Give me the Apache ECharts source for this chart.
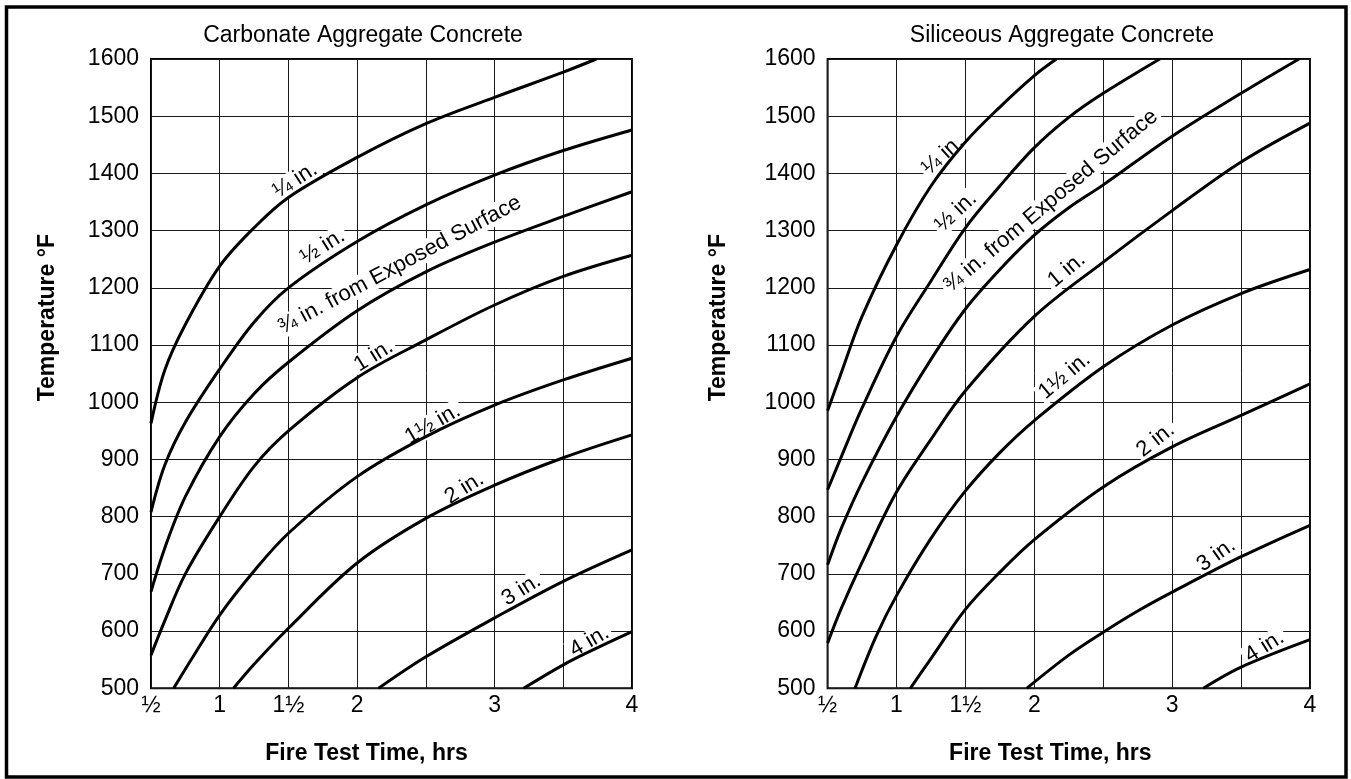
<!DOCTYPE html>
<html>
<head>
<meta charset="utf-8">
<script src="https://cdn.jsdelivr.net/npm/echarts@6/dist/echarts.min.js"></script>
<style>
html,body{margin:0;padding:0;background:#fff;}
#c{width:1351px;height:779px;}
</style>
</head>
<body>
<div id="c"></div>
<script>
// ---------- DATA (hours, °F) ----------
const panelTitles = ['Carbonate Aggregate Concrete', 'Siliceous Aggregate Concrete'];
const xAxisTitle = 'Fire Test Time, hrs';
const yAxisTitle = 'Temperature °F';
const timeTickValues = [0.5, 1, 1.5, 2, 2.5, 3, 3.5, 4];
const timeTickLabels = ['½', '1', '1½', '2', '', '3', '', '4'];
const depthNames = ['¼ in.', '½ in.', '¾ in. from Exposed Surface', '1 in.', '1½ in.', '2 in.', '3 in.', '4 in.'];

// Carbonate aggregate concrete
const carb_025 = [[0.5,963],[0.6,1056],[0.75,1136],[1.0,1238],[1.25,1305],[1.5,1358],[2.0,1428],[2.5,1487],[3.0,1533],[3.5,1577],[3.74,1600]];
const carb_050 = [[0.5,808],[0.6,890],[0.75,965],[1.0,1058],[1.25,1140],[1.5,1200],[2.0,1281],[2.5,1345],[3.0,1397],[3.5,1440],[4.0,1476]];
const carb_075 = [[0.5,669],[0.6,745],[0.75,835],[1.0,940],[1.25,1015],[1.5,1070],[2.0,1160],[2.5,1228],[3.0,1280],[3.5,1325],[4.0,1368]];
const carb_100 = [[0.5,558],[0.6,618],[0.75,700],[1.0,800],[1.25,888],[1.5,950],[2.0,1043],[2.5,1109],[3.0,1170],[3.5,1220],[4.0,1257]];
const carb_150 = [[0.665,500],[0.8,553],[1.0,628],[1.25,705],[1.5,771],[2.0,870],[2.5,940],[3.0,995],[3.5,1039],[4.0,1077]];
const carb_200 = [[1.10,500],[1.25,542],[1.5,605],[2.0,719],[2.5,797],[3.0,855],[3.5,903],[4.0,943]];
const carb_300 = [[2.156,500],[2.5,555],[3.0,623],[3.5,687],[4.0,742]];
const carb_400 = [[3.212,500],[3.5,541],[3.75,571],[4.0,599]];

// Siliceous aggregate concrete
const sil_025 = [[0.5,985],[0.6,1052],[0.75,1150],[1.0,1275],[1.25,1378],[1.5,1455],[1.75,1516],[2.0,1571],[2.16,1600]];
const sil_050 = [[0.5,847],[0.6,905],[0.75,990],[1.0,1115],[1.25,1212],[1.5,1305],[1.75,1378],[2.0,1445],[2.25,1498],[2.5,1540],[2.91,1600]];
const sil_075 = [[0.5,716],[0.6,780],[0.75,860],[1.0,975],[1.25,1075],[1.5,1163],[1.75,1232],[2.0,1292],[2.25,1340],[2.5,1380],[3.0,1465],[3.5,1540],[3.92,1600]];
const sil_100 = [[0.5,579],[0.6,640],[0.75,720],[1.0,843],[1.25,935],[1.5,1020],[2.0,1150],[2.5,1245],[3.0,1335],[3.5,1420],[4.0,1488]];
const sil_150 = [[0.699,500],[0.85,590],[1.0,662],[1.25,762],[1.5,845],[1.75,912],[2.0,968],[2.5,1062],[3.0,1135],[3.5,1190],[4.0,1232]];
const sil_200 = [[1.10,500],[1.25,552],[1.5,638],[1.75,703],[2.0,760],[2.5,852],[3.0,922],[3.5,977],[4.0,1032]];
const sil_300 = [[1.945,500],[2.25,558],[2.5,598],[2.75,635],[3.0,668],[3.5,730],[4.0,785]];
const sil_400 = [[3.226,500],[3.5,537],[4.0,585]];

const carbCurves = [carb_025, carb_050, carb_075, carb_100, carb_150, carb_200, carb_300, carb_400];
const silCurves = [sil_025, sil_050, sil_075, sil_100, sil_150, sil_200, sil_300, sil_400];

// ---------- LAYOUT / STYLE ----------
const FONT = '"Liberation Sans", Arial, Helvetica, sans-serif';
// curve label anchors in data coordinates [hours, °F] and rotation (deg)
const carbLabelPlace = [[1.55,1388,33],[1.75,1272,32],[2.31,1240,28],[2.12,1081,32],[2.55,962,30],[2.78,850,32],[3.195,672,32],[3.69,582,30]];
const silLabelPlace = [[1.337,1432,42],[1.432,1333,43],[2.12,1352,40],[2.235,1231,40],[2.22,1046,40],[2.88,934,38],[3.32,733,35],[3.67,573,32]];

const gridDefs = [
  {left:151, top:59, width:481, height:629.3},
  {left:827.6, top:59, width:482.4, height:629.3}
];
const titleCenters = [363, 1062];
const xNamePad = [[0,50,0,0],[0,37,0,0]];
const yNameGap = [92, 97];

function tickFmt(v) {
  for (let i = 0; i < timeTickValues.length; i++) {
    if (Math.abs(timeTickValues[i] - v) < 1e-6) return timeTickLabels[i];
  }
  return '';
}

const chart = echarts.init(document.getElementById('c'), null, {renderer: 'canvas'});

const grids = gridDefs.map(g => Object.assign({show: true, borderColor: '#000', borderWidth: 2, backgroundColor: 'transparent'}, g));
const xAxes = [0,1].map(i => ({
  type: 'value', gridIndex: i, min: 0.5, max: 4, interval: 0.5,
  axisLine: {show: false}, axisTick: {show: false},
  splitLine: {show: true, lineStyle: {color: '#1a1a1a', width: 1}},
  axisLabel: {formatter: tickFmt, fontFamily: FONT, fontSize: 23, color: '#000', margin: 6, showMinLabel: true, showMaxLabel: true},
  name: xAxisTitle, nameLocation: 'middle', nameGap: 54,
  nameTextStyle: {fontFamily: FONT, fontSize: 23, fontWeight: 'bold', color: '#000', padding: xNamePad[i]}
}));
const yAxes = [0,1].map(i => ({
  type: 'value', gridIndex: i, min: 500, max: 1600, interval: 100,
  axisLine: {show: false}, axisTick: {show: false},
  splitLine: {show: true, lineStyle: {color: '#1a1a1a', width: 1}},
  axisLabel: {formatter: v => String(v), fontFamily: FONT, fontSize: 23, color: '#000', margin: 12},
  name: yAxisTitle, nameLocation: 'middle', nameRotate: 90, nameGap: yNameGap[i],
  nameTextStyle: {fontFamily: FONT, fontSize: 23, fontWeight: 'bold', color: '#000', padding: [0,0,0,112]}
}));

const series = [];
[carbCurves, silCurves].forEach((curves, gi) => {
  curves.forEach((d, k) => {
    series.push({
      type: 'line', name: panelTitles[gi] + ' ' + depthNames[k],
      xAxisIndex: gi, yAxisIndex: gi, data: d,
      smooth: 0.35, showSymbol: false, symbol: 'none',
      lineStyle: {color: '#000', width: 3}, z: 3, silent: true, clip: true
    });
  });
});

chart.setOption({
  animation: false,
  backgroundColor: '#fff',
  title: panelTitles.map((t, i) => ({
    text: t, left: titleCenters[i], top: 24, textAlign: 'center', padding: 0,
    textStyle: {fontFamily: FONT, fontSize: 23, fontWeight: 'normal', color: '#000'}
  })),
  grid: grids, xAxis: xAxes, yAxis: yAxes, series: series
});

// curve labels (white boxes mask the grid like the original)
const graphics = [{
  type: 'rect', z: 10, silent: true,
  shape: {x: 6.5, y: 7, width: 1339.5, height: 770},
  style: {fill: 'none', stroke: '#000', lineWidth: 3.5}
}];
[carbLabelPlace, silLabelPlace].forEach((places, gi) => {
  places.forEach((p, k) => {
    const px = chart.convertToPixel({gridIndex: gi}, [p[0], p[1]]);
    graphics.push({
      type: 'text', x: px[0], y: px[1], rotation: p[2] * Math.PI / 180, z: 1, silent: true,
      style: {
        text: depthNames[k], font: '22px ' + FONT, fill: '#000',
        align: 'center', verticalAlign: 'middle',
        backgroundColor: '#fff', padding: [0, 3, 0, 3]
      }
    });
  });
});
chart.setOption({graphic: graphics});
</script>
</body>
</html>
